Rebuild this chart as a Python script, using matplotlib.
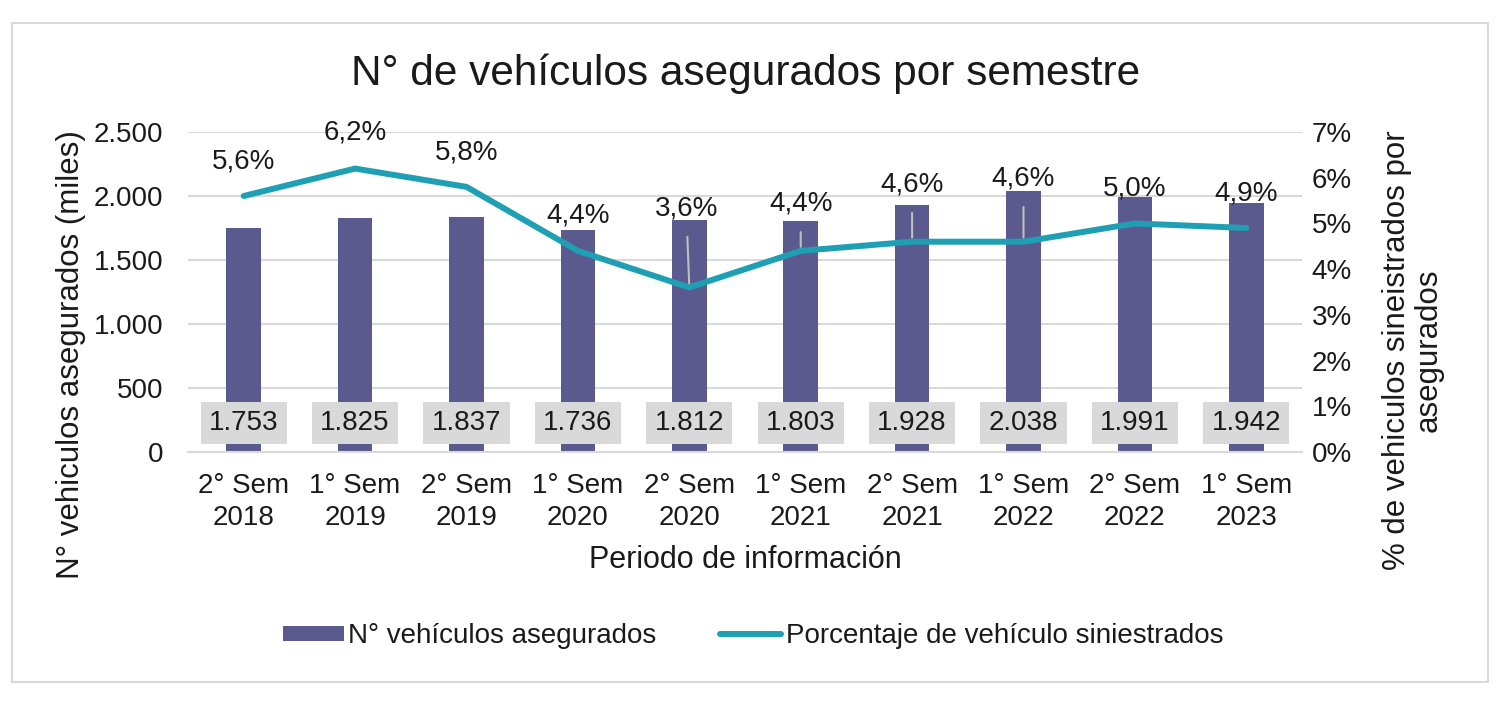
import matplotlib
matplotlib.use("Agg")
import matplotlib.pyplot as plt
from matplotlib.patches import Rectangle

plt.rcParams['font.family'] = ['Liberation Sans', 'DejaVu Sans']

# data
periodos = ["2° Sem\n2018", "1° Sem\n2019", "2° Sem\n2019", "1° Sem\n2020", "2° Sem\n2020",
            "1° Sem\n2021", "2° Sem\n2021", "1° Sem\n2022", "2° Sem\n2022", "1° Sem\n2023"]
asegurados = [1753, 1825, 1837, 1736, 1812, 1803, 1928, 2038, 1991, 1942]
porcentaje = [5.6, 6.2, 5.8, 4.4, 3.6, 4.4, 4.6, 4.6, 5.0, 4.9]
# label offsets (pixels above the point) to mimic the original placement
offset_lbl = [34, 36, 34, 35, 79, 47, 57, 63, 35, 35]
leader = [False, False, False, False, True, True, True, True, False, False]

bar_color = '#5b5a8e'
line_color = '#1f9fb3'
grid_color = '#d9d9d9'
txt = '#1a1a1a'
fs = 20

fig = plt.figure(figsize=(15, 7.06), dpi=100)
fig.patches.append(Rectangle((12/1500, 1-682/706), 1476/1500, 659/706, transform=fig.transFigure,
                             fill=False, edgecolor='#d9d9d9', lw=1.5))

ax = fig.add_axes([188/1500, 1-452/706, 1114/1500, 320/706])
x = list(range(len(periodos)))

bars = ax.bar(x, asegurados, width=0.31, color=bar_color, zorder=2, label='N° vehículos asegurados')
ax.set_ylim(0, 2500)
ax.set_xlim(-0.5, len(periodos)-0.5)
ax.set_yticks([0, 500, 1000, 1500, 2000, 2500])
ax.set_yticklabels(['0', '500', '1.000', '1.500', '2.000', '2.500'])
ax.grid(axis='y', color=grid_color, lw=1.5, zorder=0)
ax.set_axisbelow(True)
for s in ['top', 'right', 'left']:
    ax.spines[s].set_visible(False)
ax.spines['bottom'].set_color(grid_color)
ax.spines['bottom'].set_linewidth(1.5)
ax.tick_params(axis='y', length=0, pad=18, labelsize=fs, labelcolor=txt)
ax.tick_params(axis='x', length=0, pad=15, labelsize=fs, labelcolor=txt)
ax.set_xticks(x)
ax.set_xticklabels(periodos, linespacing=1.3)

# bar value labels in grey boxes near the base
for i, v in enumerate(asegurados):
    ax.text(i, 227, f"{v:,}".replace(',', '.'), ha='center', va='center', fontsize=fs, color=txt,
            bbox=dict(boxstyle='square,pad=0.3', facecolor='#d9d9d9', edgecolor='none'), zorder=4)

ax.set_xlabel('Periodo de información', fontsize=22, color=txt, labelpad=10)

ax2 = ax.twinx()
ax2.set_ylim(0, 7)
ax2.set_yticks(range(8))
ax2.set_yticklabels([f"{t}%" for t in range(8)])
for s in ax2.spines.values():
    s.set_visible(False)
ax2.tick_params(axis='y', length=0, pad=7, labelsize=fs, labelcolor=txt)
ax2.plot(x, porcentaje, color=line_color, lw=4.3, solid_capstyle='round', solid_joinstyle='round',
         zorder=3, label='Porcentaje de vehículo siniestrados')

for i, (p, off, ld) in enumerate(zip(porcentaje, offset_lbl, leader)):
    props = None
    if ld:
        props = dict(arrowstyle='-', color='#bfbfbf', lw=1.5, shrinkA=9, shrinkB=3)
    dx = -3 if i == 4 else 0
    ax2.annotate(f"{p:.1f}%".replace('.', ','), xy=(i, p), xytext=(dx, off), textcoords='offset pixels',
                 ha='center', va='center', fontsize=fs, color=txt, arrowprops=props, zorder=5)

# axis titles (placed like the original, not centred on the plot area)
fig.text(71/1500, 1-355/706, 'N° vehiculos asegurados (miles)', rotation=90, ha='center', va='center',
         fontsize=22.5, color=txt)
fig.text(1413/1500, 1-350/706, '% de vehiculos sineistrados por\nasegurados', rotation=90,
         ha='center', va='center', multialignment='center', fontsize=22.5, color=txt, linespacing=1.08)

fig.text(746/1500, 1-74/706, 'N° de vehículos asegurados por semestre', ha='center', va='center',
         fontsize=30.5, color=txt)

h1, l1 = ax.get_legend_handles_labels()
h2, l2 = ax2.get_legend_handles_labels()
fig.legend(h1 + h2, l1 + l2, loc='center', bbox_to_anchor=(753/1500, 1-636/706), ncol=2,
           frameon=False, fontsize=fs, handlelength=2.2, handleheight=0.45, handletextpad=0.15,
           columnspacing=2.3, labelcolor=txt)

fig.savefig('out.png', dpi=100)
